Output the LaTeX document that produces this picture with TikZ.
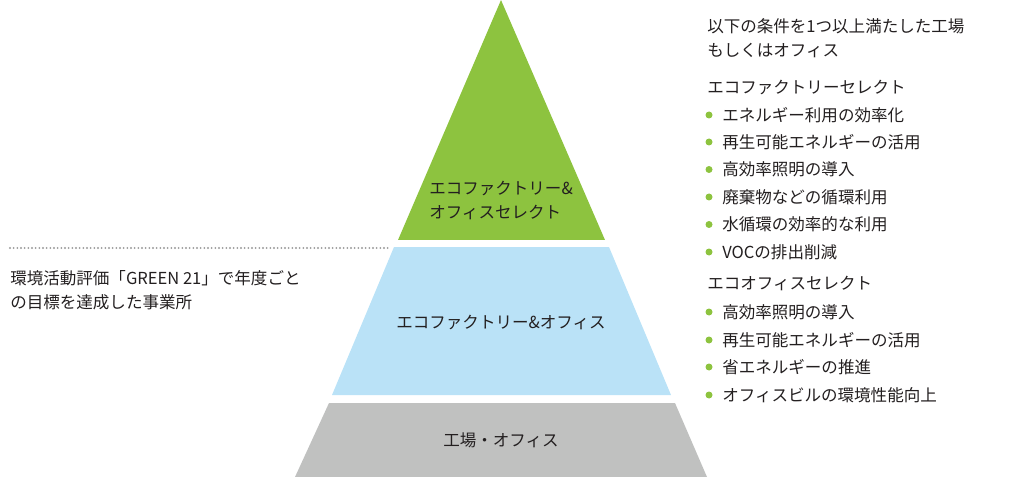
\documentclass[tikz,border=0pt]{standalone}
\usepackage{fontspec}
\setmainfont{Noto Sans CJK JP}
\usetikzlibrary{positioning}

\definecolor{ecogreen}{HTML}{8DC33F}
\definecolor{ecoblue}{HTML}{BAE2F7}
\definecolor{ecogray}{HTML}{C0C1C0}
\definecolor{ink}{HTML}{231F20}
\definecolor{dotgray}{HTML}{9A9A9A}

\tikzset{
  lbl/.style={inner sep=0pt, text=ink, font=\fontsize{12.4}{18}\selectfont},
  txt/.style={lbl, anchor=west, align=left},
  bullet/.style={fill=ecogreen},
}

\begin{document}
\begin{tikzpicture}[x=0.75pt,y=-0.75pt]
\useasboundingbox (0,0) rectangle (1009,477);
% pyramid
\fill[ecogreen] (501,0)--(398,240)--(605,240)--cycle;
\fill[ecoblue] (394,247)--(609,247)--(671,395)--(332,395)--cycle;
\fill[ecogray] (329,403)--(675,403)--(707,477)--(295,477)--cycle;
\node[lbl, align=left] (select) at (501,200) {エコファクトリー\&\\オフィスセレクト};
\node[lbl] (ecoall) at (501,322) {エコファクトリー\&オフィス};
\node[lbl] (base) at (501,440) {工場・オフィス};
% left note
\draw[dotgray, line width=1.6pt, line cap=round, dash pattern=on 0pt off 2.75pt] (10,248)--(388,248);
\node[txt] (green21) at (10,290) {環境活動評価「GREEN 21」で年度ごと\\の目標を達成した事業所};
% right list
\node[txt] (cond) at (707,38.5) {以下の条件を1つ以上満たした工場\\もしくはオフィス};
\node[txt] (factory) at (707,87) {エコファクトリーセレクト};
\node[txt] (f1) at (722,115) {エネルギー利用の効率化};
\node[txt] (f2) at (722,142) {再生可能エネルギーの活用};
\node[txt] (f3) at (722,169.5) {高効率照明の導入};
\node[txt] (f4) at (722,197) {廃棄物などの循環利用};
\node[txt] (f5) at (722,224.5) {水循環の効率的な利用};
\node[txt] (f6) at (722,252) {VOCの排出削減};
\node[txt] (office) at (707,283) {エコオフィスセレクト};
\node[txt] (o1) at (722,312) {高効率照明の導入};
\node[txt] (o2) at (722,340) {再生可能エネルギーの活用};
\node[txt] (o3) at (722,367) {省エネルギーの推進};
\node[txt] (o4) at (722,395) {オフィスビルの環境性能向上};
\fill[bullet] (709,115) circle (3.5);
\fill[bullet] (709,142) circle (3.5);
\fill[bullet] (709,169.5) circle (3.5);
\fill[bullet] (709,197) circle (3.5);
\fill[bullet] (709,224.5) circle (3.5);
\fill[bullet] (709,252) circle (3.5);
\fill[bullet] (709,312) circle (3.5);
\fill[bullet] (709,340) circle (3.5);
\fill[bullet] (709,367) circle (3.5);
\fill[bullet] (709,395) circle (3.5);
\end{tikzpicture}
\end{document}
